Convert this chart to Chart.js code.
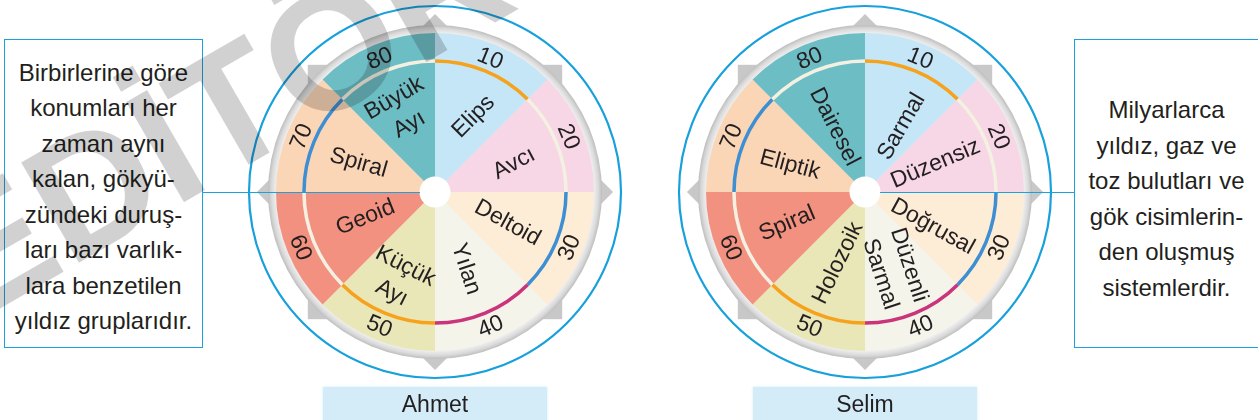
<!DOCTYPE html>
<html lang="tr">
<head>
<meta charset="utf-8">
<script src="https://cdn.jsdelivr.net/npm/chart.js@4.4.0/dist/chart.umd.min.js"></script>
<style>
  body { margin: 0; background: #fff; font-family: "Liberation Sans", Arial, sans-serif; color: #231f20; }
  #page { position: relative; width: 1258px; height: 420px; overflow: hidden; }
  .wheel { position: absolute; top: -8px; }
  .box { position: absolute; top: 39px; height: 309px; box-sizing: border-box; border: 1.5px solid #1ba1dd;
         display: flex; align-items: center; justify-content: center; text-align: center;
         font-size: 24px; line-height: 35.5px; }
  .link { position: absolute; top: 191.5px; height: 1.6px; background: #1ba1dd; z-index: 5; }
  .name { position: absolute; top: 387px; width: 224px; height: 40px; background: #d4ecf8;
          box-shadow: 0 0 3px #d4ecf8; text-align: center; font-size: 23px; line-height: 34px; }
  #wm { position: absolute; left: 0; top: 0; pointer-events: none; z-index: 10; }
</style>
</head>
<body>
<div id="page">
  <canvas id="ahmet" class="wheel" width="400" height="400" style="left:235px"></canvas>
  <canvas id="selim" class="wheel" width="400" height="400" style="left:665px"></canvas>

  <div class="box" style="left:4px; width:199px; padding-top:6px">
    Birbirlerine göre<br>konumları her<br>zaman aynı<br>kalan, gökyü-<br>zündeki duruş-<br>ları bazı varlık-<br>lara benzetilen<br>yıldız gruplarıdır.
  </div>
  <div class="box" style="left:1074px; width:184px; border-right:none; padding-top:10px">
    Milyarlarca<br>yıldız, gaz ve<br>toz bulutları ve<br>gök cisimlerin-<br>den oluşmuş<br>sistemlerdir.
  </div>
  <div class="link" style="left:203px; width:217px"></div>
  <div class="link" style="left:880px; width:194px"></div>

  <div class="name" style="left:323px">Ahmet</div>
  <div class="name" style="left:753px">Selim</div>

  <canvas id="wm" width="1258" height="420"></canvas>
</div>

<script>
// eight equal sectors, read clockwise from the top
const sectorValues = [1, 1, 1, 1, 1, 1, 1, 1];
const tickLabels = ['10', '20', '30', '40', '50', '60', '70', '80'];
const ahmetNames = ['Elips', 'Avcı', 'Deltoid', 'Yılan', 'Küçük\nAyı', 'Geoid', 'Spiral', 'Büyük\nAyı'];
const selimNames = ['Sarmal', 'Düzensiz', 'Doğrusal', 'Düzenli\nSarmal', 'Holozoik', 'Spiral', 'Eliptik', 'Dairesel'];

// styles
const sectorColors = ['#c4e6f7', '#f7d6e6', '#fdecd6', '#f4f4eb', '#e9e7b7', '#f2917f', '#fbd6b6', '#6dbdc5'];
const ringColors = ['#f7a21c', '#f4f1e2', '#3d8ed3', '#c9347a', '#f7a21c', '#f4f1e2', '#3d8ed3', '#f4f1e2'];
// [radius, angle shift from sector middle (deg), text rotation (deg)]
const ahmetLayout = [[85, 4, -45], [84, 2, -28], [79, 0, 29], [83, 0, 72], [94, 0, 27], [74, 3, -22], [82, -1, 16], [88, 0, -30]];
const selimLayout = [[75, 6, -60], [76, 0, -23], [76, 4, 29], [83, 1, 72], [76, -1, -64], [84, 1, -23], [80, -2, 15], [72, -2, 63]];

const FONT = '"Liberation Sans", Arial, sans-serif';
const DEG = Math.PI / 180;

const wheelDecor = {
  id: 'wheelDecor',
  beforeDatasetsDraw(chart) {
    const a = chart.getDatasetMeta(0).data[0];
    const {x, y, outerRadius: R} = a;
    const ctx = chart.ctx;
    ctx.save();
    // compass points behind the rim
    ctx.fillStyle = '#c8c8c8';
    const d = R * 1.12, s = R * 0.8;
    ctx.beginPath();
    ctx.moveTo(x, y - d); ctx.lineTo(x + d, y); ctx.lineTo(x, y + d); ctx.lineTo(x - d, y);
    ctx.closePath();
    ctx.fill();
    ctx.fillRect(x - s, y - s, 2 * s, 2 * s);
    // grey rim
    const g = ctx.createRadialGradient(x, y, R, x, y, R + 8);
    g.addColorStop(0, '#eeeeee');
    g.addColorStop(0.55, '#dadada');
    g.addColorStop(1, '#bdbdbd');
    ctx.fillStyle = g;
    ctx.beginPath();
    ctx.arc(x, y, R + 8, 0, Math.PI * 2);
    ctx.fill();
    ctx.restore();
  },
  afterDatasetsDraw(chart, args, opts) {
    const meta = chart.getDatasetMeta(0);
    const {x, y, outerRadius: R, innerRadius} = meta.data[0];
    const ctx = chart.ctx;
    const names = chart.data.labels;
    ctx.save();

    // white hub
    ctx.fillStyle = '#ffffff';
    ctx.beginPath();
    ctx.arc(x, y, innerRadius + 0.5, 0, Math.PI * 2);
    ctx.fill();

    // inner ring with coloured arcs
    const rr = R * 0.824;
    meta.data.forEach((a, i) => {
      ctx.beginPath();
      ctx.strokeStyle = ringColors[i];
      ctx.lineWidth = 3.5;
      ctx.arc(x, y, rr, a.startAngle, a.endAngle);
      ctx.stroke();
    });

    ctx.fillStyle = '#231f20';
    ctx.textAlign = 'center';
    ctx.textBaseline = 'middle';

    // sector numbers on the outer band
    ctx.font = '23px ' + FONT;
    meta.data.forEach((a, i) => {
      const mid = (a.startAngle + a.endAngle) / 2;
      const fromTop = mid / DEG + 90;
      const rot = (fromTop > 90 && fromTop < 270) ? fromTop - 180 : fromTop;
      ctx.save();
      ctx.translate(x + R * 0.912 * Math.cos(mid), y + R * 0.912 * Math.sin(mid));
      ctx.rotate(rot * DEG);
      ctx.fillText(tickLabels[i], 0, 1);
      ctx.restore();
    });

    // names inside the sectors
    meta.data.forEach((a, i) => {
      const [r, shift, rot] = opts.layout[i];
      const ang = (a.startAngle + a.endAngle) / 2 + shift * DEG;
      const lines = names[i].split('\n');
      ctx.save();
      ctx.translate(x + r * Math.cos(ang), y + r * Math.sin(ang));
      ctx.rotate(rot * DEG);
      lines.forEach((ln, k) => ctx.fillText(ln, 0, (k - (lines.length - 1) / 2) * 30 + 1));
      ctx.restore();
    });

    // outer blue circle
    ctx.beginPath();
    ctx.strokeStyle = '#17a0dc';
    ctx.lineWidth = 2.2;
    ctx.arc(x, y, R + 27, 0, Math.PI * 2);
    ctx.stroke();
    ctx.restore();
  }
};

function makeWheel(id, names, layout) {
  return new Chart(document.getElementById(id), {
    type: 'doughnut',
    data: {
      labels: names,
      datasets: [{
        data: sectorValues,
        backgroundColor: sectorColors,
        borderWidth: 0,
        hoverOffset: 0
      }]
    },
    plugins: [wheelDecor],
    options: {
      responsive: false,
      animation: false,
      events: [],
      cutout: 15,
      layout: { padding: 41 },
      plugins: {
        legend: { display: false },
        tooltip: { enabled: false },
        wheelDecor: { layout: layout }
      }
    }
  });
}

makeWheel('ahmet', ahmetNames, ahmetLayout);
makeWheel('selim', selimNames, selimLayout);

// faint watermark across the top left, placed so the "Ö" sits at (330, 48)
const wm = document.getElementById('wm').getContext('2d');
const wmSize = 168, wmRot = -30 * DEG;
wm.font = 'bold ' + wmSize + 'px ' + FONT;
const adv = wm.measureText('EDİT').width + wm.measureText('Ö').width / 2;
const ox = 330, oy = 48;
const bx = ox - Math.sin(wmRot) * 0.36 * wmSize;
const by = oy + Math.cos(wmRot) * 0.36 * wmSize;
wm.translate(bx - adv * Math.cos(wmRot), by - adv * Math.sin(wmRot));
wm.rotate(wmRot);
wm.textBaseline = 'alphabetic';
wm.fillStyle = 'rgba(0,0,0,0.18)';
wm.fillText('EDİTÖR', 0, 0);
</script>
</body>
</html>
